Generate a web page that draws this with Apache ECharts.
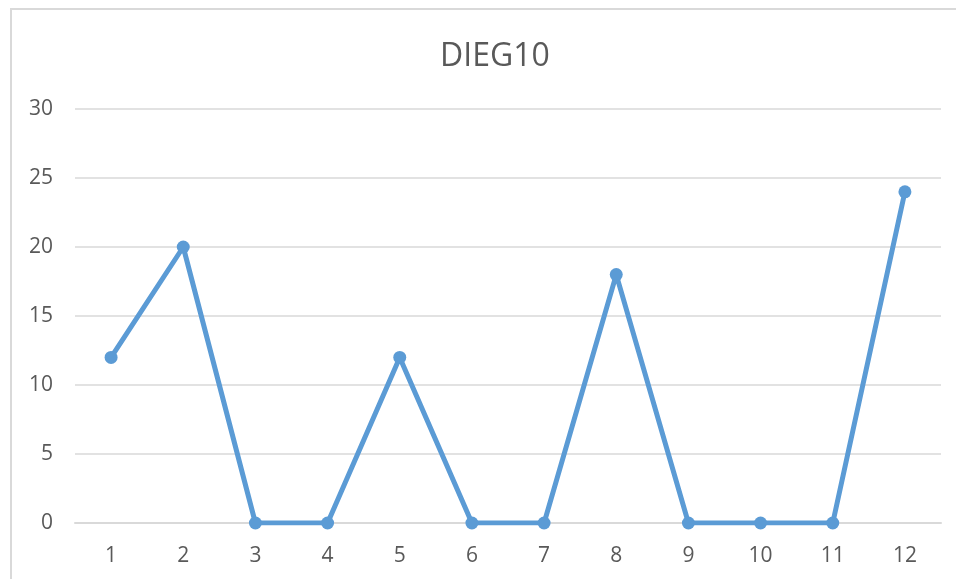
<!DOCTYPE html>
<html>
<head>
<meta charset="utf-8">
<script src="https://cdn.jsdelivr.net/npm/echarts@6/dist/echarts.min.js"></script>
<style>
  html, body { margin: 0; padding: 0; background: #fff; }
  #chart { width: 956px; height: 579px; }
</style>
</head>
<body>
<div id="chart"></div>
<script>
// Monthly counts for DIEG10
const chartTitle = 'DIEG10';
const categories = ['1', '2', '3', '4', '5', '6', '7', '8', '9', '10', '11', '12'];
const values = [12, 20, 0, 0, 12, 0, 0, 18, 0, 0, 0, 24];

const textColor = '#595959';
const gridColor = '#d9d9d9';
const fontFamily = '"Open Sans", "Liberation Sans", sans-serif';

const chart = echarts.init(document.getElementById('chart'), null, { renderer: 'canvas' });

chart.setOption({
  animation: false,
  backgroundColor: '#ffffff',
  title: {
    text: chartTitle,
    left: 435,
    top: 36,
    textStyle: { color: textColor, fontSize: 32, fontWeight: 'normal', fontFamily: fontFamily }
  },
  graphic: [{
    type: 'rect',
    shape: { x: 11, y: 9, width: 1000, height: 1000 },
    style: { fill: 'none', stroke: gridColor, lineWidth: 2 },
    silent: true,
    z: -1
  }],
  grid: { left: 75, right: 15, top: 109, bottom: 56, containLabel: false },
  xAxis: {
    type: 'category',
    data: categories,
    boundaryGap: true,
    axisLine: { show: true, lineStyle: { color: gridColor, width: 2 } },
    axisTick: { show: false },
    axisLabel: { color: textColor, fontSize: 21, fontFamily: fontFamily, margin: 23 }
  },
  yAxis: {
    type: 'value',
    min: 0,
    max: 30,
    interval: 5,
    axisLine: { show: false },
    axisTick: { show: false },
    splitLine: { lineStyle: { color: gridColor, width: 1.5 } },
    axisLabel: { color: textColor, fontSize: 21, fontFamily: fontFamily, margin: 22 }
  },
  series: [{
    type: 'line',
    data: values,
    symbol: 'circle',
    symbolSize: 13,
    lineStyle: { color: '#5b9bd5', width: 5, cap: 'round', join: 'round' },
    itemStyle: { color: '#5b9bd5' }
  }]
});
</script>
</body>
</html>
